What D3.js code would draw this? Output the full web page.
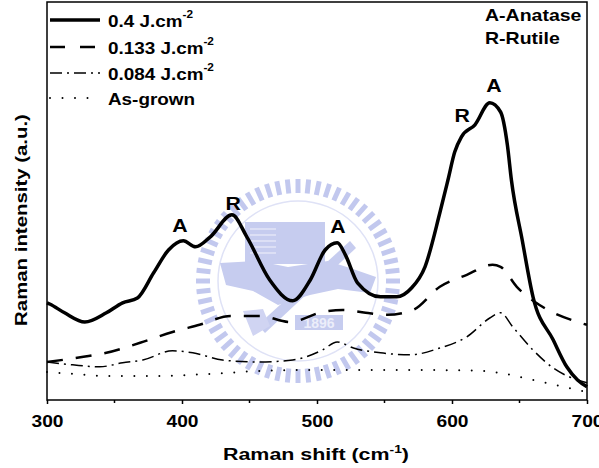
<!doctype html>
<html>
<head>
<meta charset="utf-8">
<script src="https://d3js.org/d3.v7.min.js"></script>
<style>
  body { margin: 0; background: #fff; }
  text { font-family: Arial, "Liberation Sans", sans-serif; font-weight: bold; }
</style>
</head>
<body>
<script>
  // Raman shift (cm-1) and intensities (a.u.)
  var shift040 = [300, 302, 313, 328, 344, 356, 367, 379, 390, 401, 410, 421, 437, 448, 465, 482, 495, 506, 515, 521, 530, 547, 559, 570, 580, 591, 597, 602, 607, 617, 628, 636, 641, 644, 652, 660, 675, 685, 693, 700];
  var int040 = [24.3, 24.0, 21.8, 19.5, 21.8, 24.3, 25.5, 31.8, 37.5, 39.8, 38.3, 40.8, 46.3, 40.8, 30.0, 24.8, 30.0, 37.5, 39.3, 36.3, 29.3, 25.8, 25.8, 28.0, 33.3, 46.8, 55.0, 62.0, 65.8, 68.8, 74.3, 72.0, 63.8, 55.0, 40.0, 25.8, 15.0, 8.3, 5.0, 3.3];

  var shift0133 = [300, 327, 344, 369, 393, 413, 436, 458, 480, 504, 519, 536, 552, 571, 591, 611, 630, 636, 648, 667, 693, 700];
  var int0133 = [9.5, 10.8, 11.8, 14.3, 17.0, 18.8, 21.0, 21.0, 19.5, 22.0, 22.5, 21.8, 21.3, 22.5, 28.3, 31.3, 33.8, 33.3, 28.3, 23.3, 19.5, 18.8];

  var shift0084 = [300, 319, 339, 356, 371, 393, 408, 430, 456, 482, 504, 515, 527, 547, 569, 591, 611, 628, 636, 645, 660, 675, 693, 700];
  var int0084 = [9.5, 8.8, 8.3, 9.3, 10.0, 12.3, 11.8, 10.0, 9.5, 10.0, 12.5, 14.5, 13.0, 11.8, 11.3, 13.0, 15.8, 20.5, 21.8, 18.3, 12.5, 8.0, 5.0, 4.3];

  var shiftAsGrown = [300, 320, 345, 380, 420, 460, 500, 540, 580, 620, 640, 660, 680, 700];
  var intAsGrown = [7.0, 6.5, 6.0, 6.0, 6.5, 7.3, 7.5, 7.5, 7.5, 7.3, 6.5, 5.0, 3.5, 2.0];

  var seriesNames = ["0.4 J.cm", "0.133 J.cm", "0.084 J.cm", "As-grown"];
  var xTicks = [300, 400, 500, 600, 700];
  var xMinorTicks = [350, 450, 550, 650];

  // peak assignments: position (shift, intensity) and letter
  var peakX = [398.5, 438, 515.5, 607.5, 631];
  var peakY = [42, 47.5, 41.8, 69.5, 77];
  var peakText = ["A", "R", "A", "R", "A"];

  var width = 599, height = 468;
  var plotL = 47, plotR = 587, plotT = 2, plotB = 400;
  var sx = 1.22; // text in the figure is drawn wide

  var svg = d3.select("body").append("svg")
      .attr("width", width)
      .attr("height", height);

  var x = d3.scaleLinear().domain([300, 700]).range([plotL, plotR]);
  var y = d3.scaleLinear().domain([0, 100]).range([plotB, 0]);

  // wide text helper: a group placed at (px,py), text stretched horizontally
  function wideText(parent, px, py, size, anchor, k) {
    return parent.append("g")
        .attr("transform", "translate(" + px + "," + py + ") scale(" + (k || sx) + ",1)")
      .append("text")
        .attr("text-anchor", anchor || "start")
        .style("font-size", size + "px");
  }

  // faint watermark emblem behind the plot
  var wm = svg.append("g").attr("transform", "translate(298,281)");
  var teeth = d3.range(0, 360, 6);
  wm.selectAll("line.tooth").data(teeth).enter().append("line")
      .attr("x1", function(d) { return 88 * Math.cos(d * Math.PI / 180); })
      .attr("y1", function(d) { return 88 * Math.sin(d * Math.PI / 180); })
      .attr("x2", function(d) { return 102 * Math.cos(d * Math.PI / 180); })
      .attr("y2", function(d) { return 102 * Math.sin(d * Math.PI / 180); })
      .attr("stroke", "#c2c8ee").attr("stroke-width", 5);
  wm.append("circle").attr("r", 80).attr("fill", "none")
      .attr("stroke", "#dfe2f6").attr("stroke-width", 1.5);
  wm.append("rect").attr("x", -53).attr("y", -59).attr("width", 80).attr("height", 42)
      .attr("fill", "#c6ccef");
  wm.append("path")
      .attr("d", "M-78,-18 L-40,-20 L-10,-14 L30,-20 L55,-12 L78,-4 L72,12 L40,8 L12,14 L-20,24 L-45,10 L-72,4 Z")
      .attr("fill", "#c6ccef");
  wm.append("path")
      .attr("d", "M-40,44 L52,-40 L58,-33 L-33,52 Z")
      .attr("fill", "#c6ccef");
  wm.append("path")
      .attr("d", "M-55,30 L-35,28 L-28,45 L-45,55 Z")
      .attr("fill", "#d0d4f2");
  wm.append("rect").attr("x", -3).attr("y", 34).attr("width", 48).attr("height", 15)
      .attr("fill", "#c6ccef");
  wm.append("text").attr("x", 21).attr("y", 47).attr("text-anchor", "middle")
      .style("font-size", "14px").attr("fill", "#eceefa").text("1896");
  wm.selectAll("line.stripe").data(d3.range(5)).enter().append("line")
      .attr("x1", -48).attr("x2", -22)
      .attr("y1", function(d) { return -52 + d * 6; })
      .attr("y2", function(d) { return -52 + d * 6; })
      .attr("stroke", "#e3e6f7").attr("stroke-width", 1.5);

  var line = d3.line()
      .x(function(d) { return x(d[0]); })
      .y(function(d) { return y(d[1]); })
      .curve(d3.curveMonotoneX);

  var styles = [
    { w: 3.5, dash: null },
    { w: 2.5, dash: "16,13" },
    { w: 1.5, dash: "12,5,2,5" },
    { w: 2, dash: "0,12.5" }
  ];

  var series = [
    d3.zip(shift040, int040),
    d3.zip(shift0133, int0133),
    d3.zip(shift0084, int0084),
    d3.zip(shiftAsGrown, intAsGrown)
  ];

  svg.append("g").selectAll("path").data(series).enter().append("path")
      .attr("d", line)
      .attr("fill", "none")
      .attr("stroke", "#000")
      .attr("stroke-linecap", function(d, i) { return i == 3 ? "round" : "butt"; })
      .attr("stroke-width", function(d, i) { return styles[i].w; })
      .attr("stroke-dasharray", function(d, i) { return styles[i].dash; });

  // frame
  svg.append("rect")
      .attr("x", plotL).attr("y", plotT)
      .attr("width", plotR - plotL).attr("height", plotB - plotT)
      .attr("fill", "none").attr("stroke", "#000").attr("stroke-width", 1.5);

  // x axis
  var axis = svg.append("g").attr("transform", "translate(0," + plotB + ")");
  axis.call(d3.axisBottom(x).tickValues(xTicks).tickSize(4).tickFormat(d3.format("d")));
  axis.select(".domain").remove();
  axis.selectAll("line").attr("stroke-width", 1.5);
  axis.selectAll("text")
      .attr("dy", null).attr("y", 0)
      .attr("transform", "translate(0,27) scale(1.2,1)")
      .style("font-size", "16px")
      .style("font-family", "Arial, 'Liberation Sans', sans-serif")
      .style("font-weight", "bold")
      .attr("fill", "#000");
  axis.selectAll(".minor").data(xMinorTicks).enter().append("line")
      .attr("class", "minor")
      .attr("x1", function(d) { return x(d); }).attr("x2", function(d) { return x(d); })
      .attr("y1", 0).attr("y2", 3)
      .attr("stroke", "#000").attr("stroke-width", 1.5);

  // axis titles
  var xt = wideText(svg, 316, 460, 17, "middle", 1.26);
  xt.append("tspan").text("Raman shift (cm");
  xt.append("tspan").attr("dy", -7).style("font-size", "11px").text("-1");
  xt.append("tspan").attr("dy", 7).text(")");

  svg.append("g")
      .attr("transform", "translate(27,220) rotate(-90) scale(1.2,1)")
    .append("text")
      .attr("text-anchor", "middle").style("font-size", "17px")
      .text("Raman intensity (a.u.)");

  // legend
  var legendY = [20, 47, 73, 98];
  var rows = svg.append("g").selectAll("g").data(seriesNames).enter().append("g")
      .attr("transform", function(d, i) { return "translate(50," + legendY[i] + ")"; });
  rows.append("line")
      .attr("x1", 0).attr("x2", 50).attr("y1", 0).attr("y2", 0)
      .attr("stroke", "#000")
      .attr("stroke-linecap", function(d, i) { return i == 3 ? "round" : "butt"; })
      .attr("stroke-width", function(d, i) { return styles[i].w; })
      .attr("stroke-dasharray", function(d, i) { return i == 1 ? "15,15" : styles[i].dash; });
  rows.each(function(d, i) {
    var t = wideText(d3.select(this), 58, 7, 16, "start", 1.18);
    t.append("tspan").text(d);
    if (i < 3) t.append("tspan").attr("dy", -9).style("font-size", "10px").text("-2");
  });

  wideText(svg, 485, 21, 16, "start").text("A-Anatase");
  wideText(svg, 485, 44, 16, "start").text("R-Rutile");

  // peak labels
  peakText.forEach(function(p, i) {
    wideText(svg, x(peakX[i]), y(peakY[i]), 19, "middle", 1.12).text(p);
  });
</script>
</body>
</html>
